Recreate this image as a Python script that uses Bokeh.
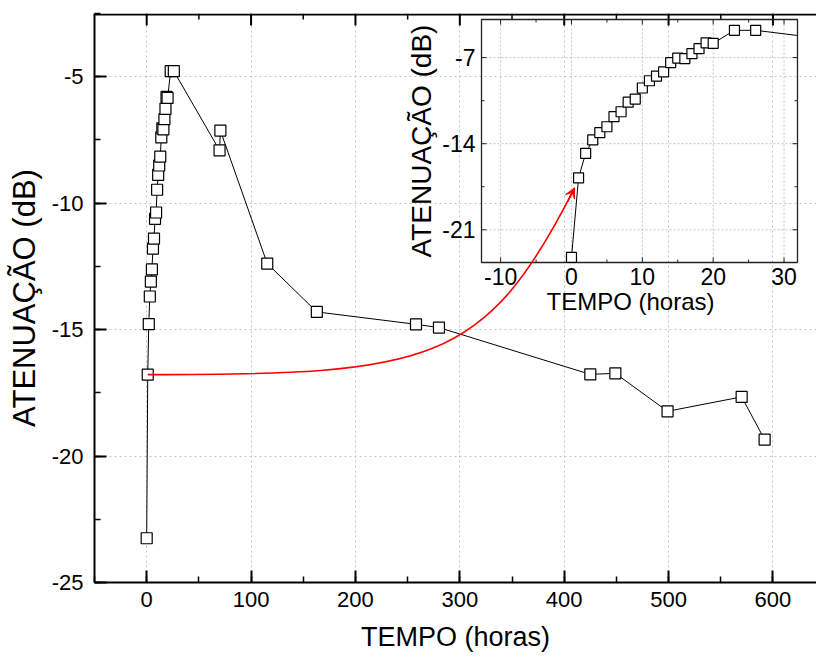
import math
from bokeh.plotting import figure
from bokeh.models import (Range1d, LinearAxis, SingleIntervalTicker, Grid, Arrow, VeeHead,
                          PrintfTickFormatter)
from bokeh.core.properties import value
from bokeh.embed import file_html
from bokeh.resources import INLINE

# ---------------- data ----------------
hours = [0, 1, 2, 3, 4, 5, 6, 7, 8, 9, 10, 11, 12, 13, 14, 15, 16, 17, 18, 19, 20, 23, 26,
         69.8, 70.6, 115.5, 163, 258, 280, 425, 449, 499, 570, 592]
atten = [-23.25, -16.78, -14.78, -13.69, -13.10, -12.62, -11.80, -11.40, -10.62, -10.37,
         -9.47, -8.88, -8.51, -8.16, -7.40, -7.04, -7.08, -6.68, -6.27, -5.80, -5.84,
         -4.78, -4.78, -7.91, -7.13, -12.39, -14.30, -14.79, -14.92, -16.77, -16.73,
         -18.23, -17.66, -19.35]

x_label = "TEMPO (horas)"
y_label = "ATENUAÇÃO (dB)"
main_x_start = -50
main_y_lim = (-25, -2.5)
main_x_ticks = [0, 100, 200, 300, 400, 500, 600]
main_x_minor = [50, 150, 250, 350, 450, 550]
main_y_interval = 5

inset_x_lim = (-12.7, 31.9)
inset_y_lim = (-23.66, -3.9)
inset_x_ticks = [-10, 0, 10, 20, 30]
inset_x_minor = [-5, 5, 15, 25]
inset_y_ticks = [-21, -14, -7]
inset_y_minor = [-17.5, -10.5]

# ---------------- geometry (page pixels) ----------------
W, H = 816, 660
FL, FT, FR, FB = 94, 13, 816, 582          # main frame
IL, IT, IR, IB = 481, 19, 797, 262         # inset box
PX_PER_HOUR = 1.0438

main_x_end = main_x_start + (FR - FL) / PX_PER_HOUR
sxm = PX_PER_HOUR
sym = (FB - FT) / (main_y_lim[1] - main_y_lim[0])

sxi = (IR - IL) / (inset_x_lim[1] - inset_x_lim[0])
syi = (IB - IT) / (inset_y_lim[1] - inset_y_lim[0])
ix0 = inset_x_lim[0] - (IL - FL) / sxi
ix1 = inset_x_lim[1] + (FR - IR) / sxi
iy1 = inset_y_lim[1] + (IT - FT) / syi
iy0 = inset_y_lim[0] - (FB - IB) / syi

BLACK = "#000000"
GRID = "#c4c4c4"
FONT = "Liberation Sans"

p = figure(width=W, height=H, output_backend="svg", toolbar_location=None,
           x_range=Range1d(main_x_start, main_x_end),
           y_range=Range1d(*main_y_lim),
           x_axis_type=None, y_axis_type=None,
           min_border_left=FL, min_border_top=FT,
           min_border_right=W - FR, min_border_bottom=H - FB,
           background_fill_color="white", border_fill_color="white")
p.outline_line_color = None
p.extra_x_ranges = {"ix": Range1d(ix0, ix1)}
p.extra_y_ranges = {"iy": Range1d(iy0, iy1)}

xt = SingleIntervalTicker(interval=main_x_ticks[1] - main_x_ticks[0], num_minor_ticks=2)
yt = SingleIntervalTicker(interval=main_y_interval, num_minor_ticks=2)

def style_axis(ax):
    ax.axis_line_width = 2
    ax.axis_line_color = BLACK
    ax.major_tick_in = 12
    ax.major_tick_out = 0
    ax.minor_tick_in = 6
    ax.minor_tick_out = 0
    ax.major_tick_line_width = 2
    ax.minor_tick_line_width = 1.5
    ax.major_tick_line_color = BLACK
    ax.minor_tick_line_color = BLACK
    ax.major_label_text_color = BLACK
    ax.axis_label_text_color = BLACK
    ax.axis_label_text_font_style = "normal"
    ax.formatter = PrintfTickFormatter(format="%d")
    ax.major_label_text_font = FONT
    ax.axis_label_text_font = FONT

left = LinearAxis(ticker=yt, axis_label=y_label)
style_axis(left)
left.major_label_text_font_size = "22px"
left.major_label_standoff = 11
left.axis_label_text_font_size = "31px"
left.axis_label_standoff = 7
p.add_layout(left, "left")

bottom = LinearAxis(ticker=xt, axis_label=x_label)
style_axis(bottom)
bottom.major_label_text_font_size = "22px"
bottom.major_label_standoff = 9
bottom.axis_label_text_font_size = "27px"
bottom.axis_label_standoff = 12
p.add_layout(bottom, "below")

p.add_layout(Grid(dimension=0, ticker=xt, grid_line_color=GRID, grid_line_dash="2 3", grid_line_width=1))
p.add_layout(Grid(dimension=1, ticker=yt, grid_line_color=GRID, grid_line_dash="2 3", grid_line_width=1))

# top frame edge with inward ticks (no labels)
y_top = main_y_lim[1]
p.segment(x0=[main_x_start], y0=[y_top - 1 / sym], x1=[main_x_end], y1=[y_top - 1 / sym],
          line_color=BLACK, line_width=2)
p.segment(x0=main_x_ticks, y0=[y_top] * len(main_x_ticks), x1=main_x_ticks,
          y1=[y_top - 12 / sym] * len(main_x_ticks), line_color=BLACK, line_width=2)
p.segment(x0=main_x_minor, y0=[y_top] * len(main_x_minor), x1=main_x_minor,
          y1=[y_top - 6 / sym] * len(main_x_minor), line_color=BLACK, line_width=1.5)

# ---------------- main series ----------------
p.line(hours, atten, line_color=BLACK, line_width=1)
p.scatter(hours, atten, marker="square", size=11, fill_color="white",
          line_color=BLACK, line_width=1.2)

# ---------------- inset ----------------
R = dict(x_range_name="ix", y_range_name="iy")
ixl, ixh = inset_x_lim
iyl, iyh = inset_y_lim

def dx(px):
    return px / sxi

def dy(px):
    return px / syi

p.segment(x0=inset_x_ticks, y0=[iyl] * len(inset_x_ticks), x1=inset_x_ticks, y1=[iyh] * len(inset_x_ticks),
          line_color=GRID, line_dash="2 2", line_width=1, **R)
p.segment(x0=[ixl] * len(inset_y_ticks), y0=inset_y_ticks, x1=[ixh] * len(inset_y_ticks), y1=inset_y_ticks,
          line_color=GRID, line_dash="2 2", line_width=1, **R)

def xticks(vals, length):
    n = len(vals)
    p.segment(x0=vals, y0=[iyl] * n, x1=vals, y1=[iyl + dy(length)] * n, line_color="#222222", line_width=1, **R)
    p.segment(x0=vals, y0=[iyh] * n, x1=vals, y1=[iyh - dy(length)] * n, line_color="#222222", line_width=1, **R)

def yticks(vals, length):
    n = len(vals)
    p.segment(x0=[ixl] * n, y0=vals, x1=[ixl + dx(length)] * n, y1=vals, line_color="#222222", line_width=1, **R)
    p.segment(x0=[ixh] * n, y0=vals, x1=[ixh - dx(length)] * n, y1=vals, line_color="#222222", line_width=1, **R)

xticks(inset_x_ticks, 5)
xticks(inset_x_minor, 3)
yticks(inset_y_ticks, 5)
yticks(inset_y_minor, 3)

p.quad(left=[ixl], right=[ixh], bottom=[iyl], top=[iyh], fill_color=None,
       line_color="#222222", line_width=1.3, **R)

p.text(x=inset_x_ticks, y=[iyl - dy(5)] * len(inset_x_ticks), text=[f"{t:g}" for t in inset_x_ticks],
       text_align="center", text_baseline="top", text_font=value(FONT), text_font_size="23px",
       text_color=BLACK, **R)
p.text(x=[ixl - dx(6)] * len(inset_y_ticks), y=inset_y_ticks, text=[f"{t:g}" for t in inset_y_ticks],
       text_align="right", text_baseline="middle", text_font=value(FONT), text_font_size="23px",
       text_color=BLACK, **R)
p.text(x=[(ixl + ixh) / 2 - dx(9)], y=[iyl - dy(39)], text=[x_label],
       text_align="center", text_baseline="middle", text_font=value(FONT), text_font_size="24px",
       text_color=BLACK, **R)
p.text(x=[ixl - dx(60)], y=[(iyl + iyh) / 2], text=[y_label], angle=math.pi / 2,
       text_align="center", text_baseline="middle", text_font=value(FONT), text_font_size="28px",
       text_color=BLACK, **R)

k = max(i for i, h in enumerate(hours) if h <= ixh)
ins_x = hours[:k + 1]
ins_y = atten[:k + 1]
h0, h1, a0, a1 = hours[k], hours[k + 1], atten[k], atten[k + 1]
line_x = ins_x + [ixh]
line_y = ins_y + [a0 + (a1 - a0) * (ixh - h0) / (h1 - h0)]
p.line(line_x, line_y, line_color=BLACK, line_width=1, **R)
p.scatter(ins_x, ins_y, marker="square", size=10, fill_color="white",
          line_color=BLACK, line_width=1.2, **R)

# ---------------- red connector (main point -> inset point) ----------------
def main_to_page(x, y):
    return FL + (x - main_x_start) * sxm, FT + (main_y_lim[1] - y) * sym

def page_to_main(px, py):
    return main_x_start + (px - FL) / sxm, main_y_lim[1] - (py - FT) / sym

def inset_to_page(x, y):
    return IL + (x - ixl) * sxi, IT + (iyh - y) * syi

s_px, s_py = main_to_page(hours[1], atten[1])
e_px, e_py = inset_to_page(hours[1], atten[1])
e_px, e_py = e_px - 4, e_py + 10
c0 = page_to_main(s_px + 282, s_py)
c1 = page_to_main(e_px - 90, e_py + 178)
sx, sy = page_to_main(s_px, s_py)
ex, ey = page_to_main(e_px, e_py)
p.bezier(x0=[sx], y0=[sy], x1=[ex], y1=[ey], cx0=[c0[0]], cy0=[c0[1]], cx1=[c1[0]], cy1=[c1[1]],
         line_color="#ff0000", line_width=1.6)
p.add_layout(Arrow(end=VeeHead(size=10, fill_color="#ff0000", line_color="#ff0000", line_width=1),
                   x_start=ex - 0.08 * (ex - c1[0]), y_start=ey - 0.08 * (ey - c1[1]),
                   x_end=ex, y_end=ey, line_color="#ff0000", line_width=1.6))

open("out.html", "w").write(file_html(p, INLINE))
